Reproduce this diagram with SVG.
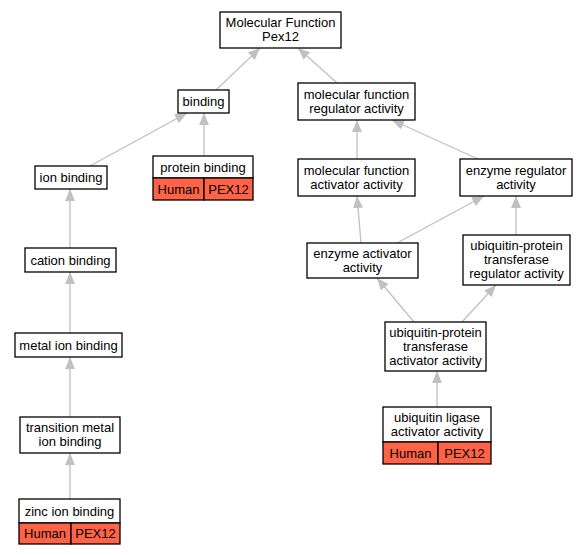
<svg xmlns="http://www.w3.org/2000/svg" width="585" height="555" viewBox="0 0 585 555">
<style>
.box{fill:#fff;stroke:#000;stroke-width:1.3}
.hit{fill:#ff6347;stroke:#000;stroke-width:1.3}
text{font-family:"Liberation Sans",Arial,sans-serif;font-size:13px;fill:#000;text-anchor:middle}
.edge{stroke:#c0c0c0;stroke-width:1.3;fill:none;marker-end:url(#arr)}
</style>
<defs>
<marker id="arr" markerUnits="userSpaceOnUse" markerWidth="12" markerHeight="10" refX="12" refY="5" orient="auto">
<path d="M0,0 L12,5 L0,10 z" fill="#c0c0c0"/>
</marker>
</defs>
<g id="edges">
<line class="edge" x1="216" y1="90" x2="260" y2="48"/>
<line class="edge" x1="337" y1="83" x2="298" y2="48"/>
<line class="edge" x1="90" y1="166" x2="187" y2="113"/>
<line class="edge" x1="204" y1="156" x2="204" y2="113"/>
<line class="edge" x1="70" y1="248" x2="70" y2="189"/>
<line class="edge" x1="70" y1="333" x2="70" y2="272"/>
<line class="edge" x1="70" y1="417" x2="70" y2="357"/>
<line class="edge" x1="70" y1="499" x2="70" y2="453"/>
<line class="edge" x1="357" y1="159" x2="357" y2="120"/>
<line class="edge" x1="478" y1="159" x2="392" y2="120"/>
<line class="edge" x1="361" y1="243" x2="357" y2="196"/>
<line class="edge" x1="397" y1="243" x2="484" y2="196"/>
<line class="edge" x1="516" y1="235" x2="516" y2="196"/>
<line class="edge" x1="414" y1="322" x2="377" y2="278"/>
<line class="edge" x1="462" y1="322" x2="496" y2="285"/>
<line class="edge" x1="437" y1="407" x2="437" y2="371"/>
</g>
<g id="root">
<rect class="box" x="220" y="12" width="121" height="36"/>
<text x="280.5" y="26.5">Molecular Function</text>
<text x="280.5" y="40.5">Pex12</text>
</g>
<g id="binding">
<rect class="box" x="178" y="90" width="51" height="23"/>
<text x="203.5" y="106">binding</text>
</g>
<g id="mfr">
<rect class="box" x="298" y="83" width="117" height="37"/>
<text x="356.5" y="98.5">molecular function</text>
<text x="356.5" y="112.5">regulator activity</text>
</g>
<g id="ion">
<rect class="box" x="35" y="166" width="72" height="23"/>
<text x="71" y="182">ion binding</text>
</g>
<g id="protein">
<rect class="box" x="153" y="156" width="100" height="22"/>
<rect class="hit" x="153" y="178" width="51" height="22"/>
<rect class="hit" x="204" y="178" width="49" height="22"/>
<text x="203" y="171.5">protein binding</text>
<text x="178.5" y="193.5">Human</text>
<text x="228.5" y="193.5">PEX12</text>
</g>
<g id="cation">
<rect class="box" x="25" y="248" width="91" height="24"/>
<text x="70.5" y="264.5">cation binding</text>
</g>
<g id="metal">
<rect class="box" x="15" y="333" width="107" height="24"/>
<text x="68.5" y="349.5">metal ion binding</text>
</g>
<g id="transition">
<rect class="box" x="20" y="417" width="100" height="36"/>
<text x="70" y="431.5">transition metal</text>
<text x="70" y="445.5">ion binding</text>
</g>
<g id="zinc">
<rect class="box" x="19" y="499" width="101" height="24"/>
<rect class="hit" x="19" y="523" width="52" height="21"/>
<rect class="hit" x="71" y="523" width="49" height="21"/>
<text x="69.5" y="515.5">zinc ion binding</text>
<text x="45" y="538">Human</text>
<text x="95.5" y="538">PEX12</text>
</g>
<g id="mfa">
<rect class="box" x="298" y="159" width="117" height="37"/>
<text x="356.5" y="174.5">molecular function</text>
<text x="356.5" y="188.5">activator activity</text>
</g>
<g id="enzreg">
<rect class="box" x="460" y="159" width="112" height="37"/>
<text x="516" y="174.5">enzyme regulator</text>
<text x="516" y="188.5">activity</text>
</g>
<g id="enzact">
<rect class="box" x="307" y="243" width="111" height="35"/>
<text x="362.5" y="257.5">enzyme activator</text>
<text x="362.5" y="271.5">activity</text>
</g>
<g id="ubreg">
<rect class="box" x="463" y="235" width="107" height="50"/>
<text x="516.5" y="249.5">ubiquitin-protein</text>
<text x="516.5" y="263.5">transferase</text>
<text x="516.5" y="277.5">regulator activity</text>
</g>
<g id="ubact">
<rect class="box" x="385" y="322" width="101" height="49"/>
<text x="435.5" y="336.5">ubiquitin-protein</text>
<text x="435.5" y="350.5">transferase</text>
<text x="435.5" y="364.5">activator activity</text>
</g>
<g id="ligase">
<rect class="box" x="383" y="407" width="108" height="35"/>
<rect class="hit" x="383" y="442" width="55" height="22"/>
<rect class="hit" x="438" y="442" width="53" height="22"/>
<text x="437" y="421.5">ubiquitin ligase</text>
<text x="437" y="435.5">activator activity</text>
<text x="410.5" y="457.5">Human</text>
<text x="464.5" y="457.5">PEX12</text>
</g>
</svg>
